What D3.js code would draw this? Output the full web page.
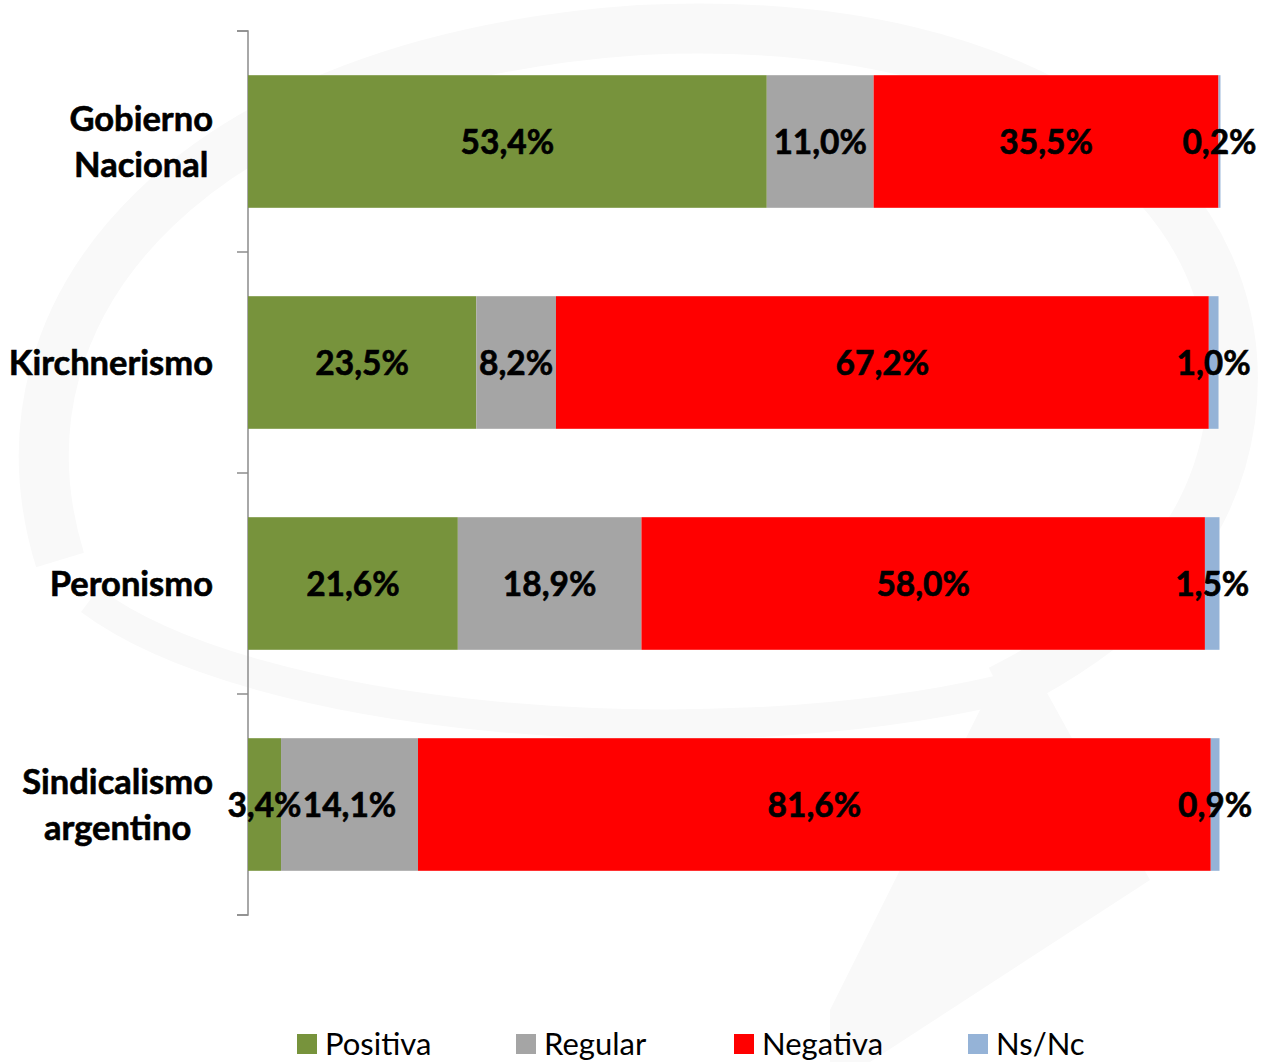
<!DOCTYPE html>
<html><head><meta charset="utf-8">
<script src="https://cdn.jsdelivr.net/npm/d3@7"></script>
<style>html,body{margin:0;padding:0;background:#fff;}svg{display:block;}</style>
</head><body>
<svg id="chart" width="1273" height="1062"></svg>
<script>
const categories = ["Gobierno Nacional", "Kirchnerismo", "Peronismo", "Sindicalismo argentino"];
const categoryLines = [["Gobierno", "Nacional"], ["Kirchnerismo"], ["Peronismo"], ["Sindicalismo", "argentino"]];
const seriesNames = ["Positiva", "Regular", "Negativa", "Ns/Nc"];
const positiva = [53.4, 23.5, 21.6, 3.4];
const regular = [11.0, 8.2, 18.9, 14.1];
const negativa = [35.5, 67.2, 58.0, 81.6];
const nsnc = [0.2, 1.0, 1.5, 0.9];
const colors = ["#77933C", "#A5A5A5", "#FF0000", "#95B3D7"];

const svg = d3.select("#chart");
const FONT = "Lato, 'Open Sans', sans-serif";

// faint watermark swirl
const wm = svg.append("g").attr("fill", "none").attr("stroke", "#f9f9f9");
wm.append("path")
  .attr("d", "M 60 560 C -20 300, 200 60, 640 30 C 1050 10, 1260 200, 1230 420 C 1210 560, 1100 640, 1000 690")
  .attr("stroke-width", 50);
wm.append("path")
  .attr("d", "M 90 600 C 250 720, 700 760, 1000 690")
  .attr("stroke-width", 30);
svg.append("path").attr("fill", "#f9f9f9")
  .attr("d", "M 830 1010 L 990 690 L 1040 680 L 1150 880 L 870 1062 L 830 1062 Z");

const data = categories.map((c, i) => ({cat: c, Positiva: positiva[i], Regular: regular[i], Negativa: negativa[i], "Ns/Nc": nsnc[i]}));
const stack = d3.stack().keys(seriesNames)(data);

const x = d3.scaleLinear().domain([0, 100]).range([248, 1219.5]);
const y = d3.scaleBand().domain(categories).range([31, 915]).paddingInner(0.4).paddingOuter(0.2);

// axis
const yAxis = d3.axisLeft(y).tickSize(0).tickFormat("");
const axG = svg.append("g").attr("transform", "translate(248,0)").call(yAxis);
axG.select(".domain").attr("stroke", "#8c8c8c").attr("stroke-width", 1.5).attr("d", "M-11,31H0V915H-11");
const step = y.step();
const boundaries = d3.range(categories.length + 1).map(i => 31 + i * step);
svg.append("g").selectAll("line").data(boundaries).join("line")
  .attr("x1", 237).attr("x2", 248).attr("y1", d => d).attr("y2", d => d)
  .attr("stroke", "#8c8c8c").attr("stroke-width", 1.5);

// bars
const layers = svg.append("g").selectAll("g").data(stack).join("g")
  .attr("fill", (d, i) => colors[i]);
layers.selectAll("rect").data(d => d).join("rect")
  .attr("x", d => x(d[0]))
  .attr("width", d => x(d[1]) - x(d[0]))
  .attr("y", d => y(d.data.cat))
  .attr("height", y.bandwidth());

// value labels
const fmt = v => v.toFixed(1).replace(".", ",") + "%";
const labG = svg.append("g").attr("font-family", FONT).attr("font-weight", "bold").attr("font-size", 33.5).attr("fill", "#000").attr("text-anchor", "middle")
  .attr("stroke", "#000").attr("stroke-width", 0.6);
stack.forEach((layer) => {
  layer.forEach(d => {
    labG.append("text")
      .attr("x", (x(d[0]) + x(d[1])) / 2)
      .attr("y", y(d.data.cat) + y.bandwidth() / 2)
      .attr("dy", "0.36em")
      .text(fmt(d[1] - d[0]));
  });
});

// category labels
const catG = svg.append("g").attr("font-family", FONT).attr("font-weight", "bold").attr("font-size", 34.5).attr("fill", "#000")
  .attr("stroke", "#000").attr("stroke-width", 0.6);
categoryLines.forEach((lines, i) => {
  const cy = y(categories[i]) + y.bandwidth() / 2;
  const g = catG.append("g");
  const lh = 46;
  const texts = lines.map((ln, j) => g.append("text")
    .attr("y", cy + (j - (lines.length - 1) / 2) * lh)
    .attr("dy", "0.36em")
    .attr("text-anchor", "middle")
    .text(ln));
  const maxW = d3.max(texts, t => t.node().getComputedTextLength());
  texts.forEach(t => t.attr("x", 213 - maxW / 2));
});

// legend
const legX = [297, 516, 734, 968];
const leg = svg.append("g").attr("font-family", FONT).attr("font-size", 31);
seriesNames.forEach((s, i) => {
  leg.append("rect").attr("x", legX[i]).attr("y", 1034).attr("width", 20).attr("height", 20).attr("fill", colors[i]);
  leg.append("text").attr("x", legX[i] + 28).attr("y", 1044).attr("dy", "0.36em").attr("fill", "#000").text(s);
});
</script>
</body></html>
